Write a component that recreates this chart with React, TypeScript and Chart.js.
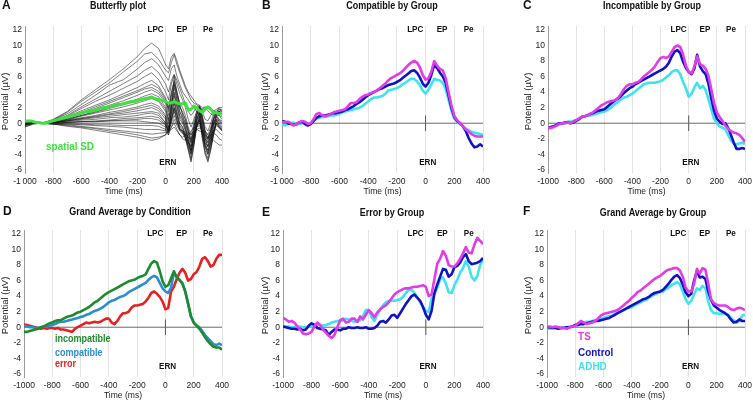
import React, { useEffect, useRef } from "react";
import { Chart, registerables } from "chart.js";
Chart.register(...registerables);

const FF = "'Liberation Sans', Arial, sans-serif";

// time base (ms), 20 ms steps
const TIMES = [-1000,-980,-960,-940,-920,-900,-880,-860,-840,-820,-800,-780,-760,-740,-720,-700,-680,-660,-640,-620,-600,-580,-560,-540,-520,-500,-480,-460,-440,-420,-400,-380,-360,-340,-320,-300,-280,-260,-240,-220,-200,-180,-160,-140,-120,-100,-80,-60,-40,-20,0,20,40,60,80,100,120,140,160,180,200,220,240,260,280,300,320,340,360,380,400];
// butterfly time base (ms)
const BT = [-1000,-940,-880,-800,-700,-600,-500,-400,-300,-200,-150,-100,-50,0,20,40,60,80,100,120,140,160,180,200,220,240,260,280,300,320,340,360,380,400];

const X_TICKS = [-1000,-800,-600,-400,-200,0,200,400];
const Y_TICKS = [-6,-4,-2,0,2,4,6,8,10,12];

// A: butterfly electrodes
const E01 = [0.2,0.1,0,0.5,1.5,3.0,4.3,5.6,7.0,8.6,9.6,10.3,9.6,7.5,7.0,8.5,9.0,8.0,6.8,5.8,4.8,4.0,3.5,3.0,2.5,2.3,2.0,2.1,2.0,1.8,1.6,1.5,1.7,1.8];
const E02 = [0.3,0.1,0,0.4,1.4,2.8,4.0,5.2,6.6,8.0,8.9,9.1,8.2,6.8,6.5,7.8,8.8,7.5,6.5,5.5,4.5,3.8,3.0,2.6,2.4,2.0,1.8,1.9,2.2,2.0,1.5,1.3,1.5,1.6];
const E03 = [-0.2,0,0,0.4,1.2,2.4,3.6,4.9,5.6,7.0,7.8,8.3,7.5,6.0,5.5,7.0,7.5,6.0,5.0,4.0,3.5,3.0,2.4,2.0,1.5,1.2,1.8,2.0,1.6,1.2,1.0,1.3,1.5,1.2];
const E04 = [0.1,0,0,0.3,1.0,2.1,3.1,4.1,5.1,6.1,6.8,7.3,6.5,5.0,4.0,5.5,6.3,5.5,4.5,3.5,2.5,1.5,1.0,1.5,2.0,2.3,1.5,0.5,0.3,1.0,1.5,1.8,2.0,1.5];
const E05 = [-0.3,0,0,0.3,0.9,1.9,2.8,3.6,4.5,5.4,6.0,6.5,5.6,4.0,3.0,5.0,6.2,5.0,3.8,3.0,2.0,0.5,-0.5,0.5,1.5,2.0,1.0,-0.5,-1.0,0.0,1.2,1.5,1.8,1.4];
const E06 = [0,0,0,0.2,0.8,1.6,2.3,3.0,3.8,4.6,5.1,5.5,4.8,3.2,2.0,4.0,5.5,4.0,2.5,2.0,1.0,-0.5,-1.5,0.0,1.5,2.2,0.8,-1.0,-1.5,-0.5,0.8,1.5,1.5,1.2];
const E07 = [0.4,0.1,0,0.2,0.7,1.4,2.1,2.8,3.5,4.2,4.6,5.0,4.5,3.0,1.5,3.5,5.0,3.5,2.0,1.5,0.5,-1.0,-2.5,-0.5,1.0,2.0,0.5,-1.5,-2.5,-1.0,0.5,1.2,1.0,0.8];
const E08 = [-0.5,-0.1,0,0.2,0.6,1.2,1.8,2.3,2.9,3.6,4.0,4.3,3.8,2.5,1.0,3.0,4.5,3.0,1.5,0.8,0,-1.5,-3.0,-1.0,1.0,1.8,0,-2.0,-3.0,-1.5,0.5,1.0,1.0,0.5];
const E09 = [0.2,0,0,0.2,0.5,1.0,1.5,2.0,2.6,3.1,3.5,3.8,3.4,2.0,0.5,2.5,4.0,2.5,1.0,0.5,-0.5,-2.0,-3.5,-1.5,0.5,1.5,-0.5,-2.5,-3.5,-2.0,0.0,1.0,0.5,0.3];
const E10 = [-0.2,0,0,0.1,0.4,0.9,1.3,1.7,2.1,2.6,2.9,3.2,2.8,1.5,0.0,2.0,3.5,2.0,0.5,0,-1.0,-2.5,-4.0,-2.0,0.3,1.2,-1.0,-3.0,-4.0,-2.5,-0.5,0.8,0.2,-0.2];
const E11 = [0,0,0,0.1,0.4,0.7,1.0,1.4,1.7,2.1,2.4,2.6,2.2,1.0,-0.5,1.5,3.0,1.5,0.0,-0.5,-1.5,-3.0,-4.5,-2.5,0.0,1.0,-1.5,-3.5,-4.5,-3.0,-1.0,0.5,0.0,-0.5];
const E12 = [0.3,0.1,0,0.1,0.3,0.6,0.8,1.1,1.3,1.6,1.8,2.0,1.6,0.5,-1.0,1.0,2.5,1.0,-0.5,-1.0,-2.0,-3.5,-5.0,-3.0,-0.5,0.8,-2.0,-4.0,-5.0,-3.5,-1.5,0.3,-0.3,-0.8];
const E13 = [-0.4,-0.1,0,0.1,0.2,0.4,0.5,0.7,0.8,1.0,1.2,1.3,1.0,0.0,-1.2,0.5,2.0,0.5,-0.8,-1.2,-2.0,-3.0,-4.0,-2.5,-0.5,0.5,-1.5,-3.0,-4.0,-3.0,-1.5,0.0,-0.5,-1.0];
const E14 = [0.1,0,0,0.0,0.1,0.2,0.2,0.3,0.4,0.5,0.6,0.6,0.4,-0.3,-1.0,0.3,1.5,0.3,-0.8,-1.0,-1.5,-2.5,-3.0,-2.0,-0.3,0.3,-1.2,-2.5,-3.0,-2.2,-1.0,0.0,-0.5,-0.8];
const E15 = [0,0,0,0,-0.1,-0.1,-0.2,-0.2,-0.3,-0.3,-0.3,-0.3,-0.4,-0.8,-1.2,0.0,1.0,0.0,-0.8,-1.0,-1.2,-1.8,-2.2,-1.5,-0.5,0.0,-1.0,-2.0,-2.5,-1.8,-1.0,-0.3,-0.6,-1.0];
const E16 = [0.3,0.1,0,-0.1,-0.1,-0.2,-0.3,-0.4,-0.5,-0.7,-0.8,-0.8,-0.8,-1.0,-1.5,-0.5,0.5,-0.3,-1.0,-1.3,-1.5,-1.8,-2.0,-1.2,-0.5,-0.3,-1.0,-1.8,-2.2,-1.5,-1.0,-0.8,-1.2,-1.5];
const E17 = [-0.3,0,0,-0.1,-0.2,-0.4,-0.6,-0.8,-1.0,-1.2,-1.3,-1.4,-1.3,-1.2,-1.0,-0.8,-0.5,-1.0,-1.5,-1.8,-1.5,-1.2,-1.5,-1.0,-0.8,-0.6,-1.0,-1.5,-1.8,-1.5,-1.3,-1.5,-2.0,-2.2];
const E18 = [0,0,0,-0.1,-0.3,-0.5,-0.7,-1.0,-1.2,-1.5,-1.7,-1.9,-1.8,-1.5,-1.0,-0.5,0.0,-0.8,-1.5,-2.0,-2.2,-1.5,-1.0,-0.5,-0.8,-1.0,-1.2,-1.0,-1.5,-2.0,-2.2,-2.5,-2.8,-2.8];
const E19 = [0.2,0,0,-0.1,-0.4,-0.6,-0.9,-1.2,-1.5,-1.8,-2.0,-2.2,-2.0,-1.5,-0.5,0.5,2.0,1.0,0.0,-0.5,-1.5,-2.5,-3.0,-1.5,0.0,0.5,-0.5,-1.5,-2.0,-1.0,0.0,0.5,0.3,0.0];
const E20 = [0,0,0,0.1,0.1,0.2,0.2,0.3,0.3,0.3,0.2,0.1,0.0,-0.5,-1.5,1.5,6.0,4.0,2.5,1.0,0.0,-1.0,-2.5,-1.0,1.0,2.0,0.5,-1.0,-2.0,-1.0,0.5,1.5,2.0,2.0];
const E21 = [-0.2,0,0,0.1,0.3,0.5,0.7,0.9,1.1,1.3,1.4,1.5,1.3,0.0,-1.0,2.0,5.0,3.0,1.5,0.5,-0.5,-2.0,-3.5,-1.5,0.5,1.5,0.0,-2.0,-3.0,-1.5,0.0,1.0,1.5,1.2];
const E22 = [0.1,0,0,0.2,0.7,1.3,1.9,2.6,3.3,4.0,4.4,4.6,4.1,2.8,1.8,3.8,5.3,3.8,2.2,1.2,0.5,-0.8,-2.0,-0.5,1.2,2.1,0.8,-1.2,-2.0,-0.8,0.6,1.3,1.2,1.0];
const E23 = [-0.1,0,0,0.1,0.5,1.0,1.4,1.9,2.4,2.9,3.2,3.5,3.0,1.8,0.3,2.3,3.8,2.2,0.8,0.2,-0.8,-2.3,-3.8,-1.8,0.4,1.4,-0.8,-2.8,-3.8,-2.3,-0.3,0.9,0.4,0.1];
const E24 = [0.2,0,0,0.1,0.3,0.6,0.9,1.2,1.5,1.9,2.1,2.3,1.9,0.8,-0.8,1.2,2.8,1.2,-0.3,-0.8,-1.8,-3.3,-4.8,-2.8,-0.3,0.9,-1.8,-3.8,-4.8,-3.3,-1.3,0.4,-0.2,-0.6];
const E25 = [0,0,0,0.0,0.1,0.2,0.3,0.4,0.6,0.7,0.8,0.9,0.7,-0.2,-1.1,0.4,1.8,0.4,-0.8,-1.1,-1.8,-2.8,-3.5,-2.2,-0.4,0.4,-1.3,-2.8,-3.5,-2.6,-1.2,0.0,-0.5,-0.9];
const SPATIAL_SD = [0.2,0.3,0.3,0.2,0.1,0.1,0.0,0.0,0.1,0.2,0.3,0.4,0.5,0.6,0.7,0.8,0.9,1.0,1.1,1.2,1.3,1.4,1.5,1.5,1.6,1.7,1.8,1.9,2.0,2.0,2.1,2.2,2.3,2.4,2.4,2.5,2.6,2.7,2.8,2.8,2.9,3.0,3.1,3.2,3.2,3.3,3.2,3.1,3.0,2.9,2.8,2.6,2.6,2.8,2.6,2.5,2.5,2.6,1.7,1.8,2.2,2.0,1.6,1.4,1.8,2.1,1.8,1.3,1.4,1.2,1.3];

// B: compatible by group
const B_TS = [0.2,0.1,0.2,0.0,-0.3,-0.1,0.1,0.3,0.2,-0.1,0.0,0.5,1.2,1.3,1.0,0.9,1.0,1.2,1.4,1.5,1.6,1.7,1.8,2.2,2.6,2.6,2.7,3.1,3.4,3.6,3.7,3.9,4.0,4.2,4.5,4.8,5.1,5.5,5.8,6.0,6.2,6.4,6.7,7.1,7.5,7.8,8.0,7.8,7.2,6.2,5.6,5.8,6.6,8.0,7.4,7.0,6.8,5.8,4.0,2.3,0.9,0.4,0.0,-0.4,-0.8,-1.1,-1.4,-1.6,-1.7,-1.7,-1.7];
const B_CONTROL = [0.3,0.2,0.0,-0.1,-0.2,-0.1,0.1,0.2,-0.1,-0.3,-0.1,0.3,0.7,0.9,1.0,1.0,1.1,1.2,1.3,1.3,1.4,1.5,1.7,1.8,2.0,2.2,2.5,2.7,3.0,3.3,3.6,3.8,4.0,4.2,4.4,4.5,4.7,4.9,5.0,5.1,5.3,5.5,5.8,6.1,6.4,6.7,6.8,6.5,5.9,5.1,4.7,5.2,6.2,7.5,7.1,6.5,6.0,5.2,3.6,2.0,0.8,0.3,0.0,-0.4,-1.0,-1.9,-2.6,-3.1,-3.0,-2.7,-3.0];
const B_ADHD = [-0.2,-0.3,-0.1,0.0,0.1,-0.2,-0.1,0.0,0.1,-0.1,0.0,0.3,0.6,0.7,0.8,0.8,0.9,1.0,1.0,1.1,1.2,1.4,1.5,1.6,1.7,1.8,1.9,2.0,2.2,2.5,2.8,3.1,3.3,3.3,3.4,3.5,3.8,4.2,4.3,4.4,4.5,4.7,5.0,5.2,5.5,5.7,5.7,5.4,4.9,4.2,3.8,4.3,5.0,5.7,5.6,5.5,5.2,4.4,3.0,1.6,0.6,0.2,-0.1,-0.4,-0.7,-0.9,-1.1,-1.2,-1.3,-1.4,-1.5];

// C: incompatible by group
const C_TS = [-0.6,-0.6,-0.5,-0.3,-0.1,0.0,0.0,0.1,0.0,0.2,0.4,0.6,0.8,0.9,1.0,1.2,1.4,1.7,2.0,2.3,2.5,2.7,2.8,2.9,3.0,3.3,3.8,4.4,4.8,5.0,5.0,5.2,5.3,5.6,6.0,6.3,6.6,6.9,7.3,7.9,8.4,8.5,8.4,8.6,9.2,9.8,10.0,9.8,8.8,7.4,6.6,6.4,7.3,8.6,7.6,7.4,7.0,6.1,4.4,2.6,1.4,0.8,0.3,-0.3,-0.7,-1.0,-1.2,-1.3,-1.5,-1.9,-2.4];
const C_CONTROL = [-0.6,-0.5,-0.4,-0.2,0.0,0.0,0.1,0.1,0.0,0.1,0.3,0.5,0.8,0.9,1.0,1.2,1.3,1.5,1.6,1.7,1.8,2.1,2.4,2.7,3.0,3.2,3.5,3.9,4.2,4.5,4.7,5.0,5.2,5.4,5.6,5.8,6.0,6.2,6.4,6.6,6.8,7.0,7.3,7.8,8.6,9.2,9.4,9.0,7.9,7.1,6.6,6.3,7.0,8.8,7.3,6.7,6.3,5.1,3.2,1.6,0.6,0.2,-0.1,0.0,-0.6,-1.5,-2.5,-3.3,-3.3,-3.2,-3.3];
const C_ADHD = [-0.6,-0.6,-0.4,-0.3,-0.1,-0.1,0.0,0.2,0.2,0.3,0.4,0.6,0.8,0.9,1.0,1.0,1.1,1.2,1.3,1.4,1.5,1.7,1.9,2.2,2.5,2.8,3.1,3.3,3.4,3.6,3.8,4.1,4.4,4.7,5.0,5.1,5.2,5.2,5.2,5.3,5.4,5.6,5.9,6.2,6.6,6.8,6.8,6.3,5.3,4.5,3.4,3.8,4.6,5.2,4.5,4.8,4.3,3.1,1.8,0.6,0.0,-0.4,-0.6,-0.8,-1.5,-2.2,-2.6,-2.7,-2.6,-2.5,-2.7];

// D: grand average by condition
const D_INCOMPATIBLE = [-0.6,-0.6,-0.5,-0.4,-0.3,-0.2,0.0,0.1,0.3,0.5,0.6,0.8,0.9,0.9,1.1,1.3,1.4,1.5,1.7,1.9,2.0,2.2,2.4,2.6,2.9,3.2,3.4,3.7,4.0,4.3,4.5,4.7,4.9,5.1,5.3,5.5,5.7,5.9,6.0,6.1,6.3,6.5,6.6,6.8,7.5,8.2,8.5,8.3,7.2,5.9,5.2,5.4,6.3,7.2,6.4,6.1,5.6,4.6,3.1,1.4,0.6,0.2,-0.2,-0.7,-1.3,-1.8,-2.2,-2.5,-2.6,-2.6,-2.9];
const D_COMPATIBLE = [0.2,0.1,0.0,0.0,-0.1,-0.1,0.0,0.1,0.1,0.2,0.3,0.4,0.6,0.7,0.7,0.8,0.9,1.0,1.1,1.2,1.3,1.4,1.6,1.7,1.9,2.1,2.2,2.4,2.6,2.9,3.2,3.4,3.5,3.7,3.9,4.0,4.2,4.5,4.7,4.9,5.1,5.3,5.5,5.7,6.1,6.4,6.6,6.4,5.7,5.0,4.6,4.4,5.1,7.0,6.5,6.0,5.7,4.6,3.0,1.4,0.6,0.2,0.0,-0.5,-1.0,-1.4,-1.8,-2.2,-2.3,-2.1,-2.3];
const D_ERROR = [0.3,0.3,0.2,0.1,0.0,-0.1,-0.2,-0.1,-0.2,-0.1,-0.1,-0.2,-0.1,-0.3,-0.3,-0.4,-0.5,-0.6,-0.2,0.0,0.2,0.4,0.6,0.5,0.6,0.7,0.6,0.7,0.9,1.1,1.1,0.6,0.4,0.8,1.4,1.8,1.8,2.0,2.5,2.8,2.8,2.9,3.0,3.3,3.8,4.4,4.6,4.3,3.9,3.3,2.3,2.5,4.6,5.2,6.2,7.0,7.5,7.0,6.0,6.2,6.8,7.1,7.8,8.8,9.0,8.5,7.8,8.0,8.8,9.3,9.3];

// E: error by group
const E_TS = [1.2,1.0,0.7,0.8,0.6,0.1,-0.3,-0.8,-0.9,-0.8,-0.6,0.1,0.6,0.3,-0.3,-0.7,-1.1,-1.4,-1.0,0.0,0.9,1.1,0.6,0.7,1.1,1.1,0.7,1.4,1.0,1.6,2.2,1.8,1.3,1.9,2.3,2.6,2.8,3.2,3.7,4.2,4.5,4.7,4.9,5.0,5.0,5.1,5.2,5.2,5.3,5.4,5.2,4.0,4.2,6.2,8.2,8.8,9.8,9.2,8.0,7.8,7.8,8.2,8.8,9.5,10.3,9.6,9.5,10.6,11.5,11.1,10.7];
const E_CONTROL = [0.1,0.0,-0.1,-0.2,-0.2,-0.3,-0.2,-0.4,-0.3,0.2,0.5,0.3,-0.1,-0.2,-0.3,-0.4,-1.0,-0.6,-0.3,-0.3,-0.4,-0.2,-0.2,0.0,-0.1,-0.1,0.0,-0.1,-0.1,0.0,-0.2,-0.2,-0.1,0.2,0.7,0.8,0.6,1.0,1.5,1.6,1.2,1.8,2.4,3.0,3.5,4.0,4.2,3.8,3.4,2.6,1.6,1.0,2.1,4.4,5.5,6.5,7.5,7.4,6.5,6.8,7.7,7.9,8.3,9.0,9.4,8.5,8.1,8.2,8.3,8.5,8.9];
const E_ADHD = [0.2,0.1,0.1,0.0,0.0,0.1,0.1,0.0,0.0,0.1,0.1,0.2,0.3,0.3,0.2,0.3,0.4,0.6,0.7,0.8,0.8,0.9,1.1,1.0,0.8,0.7,0.7,0.9,1.4,2.2,2.2,1.3,0.8,1.6,2.3,2.8,3.2,3.4,3.4,3.4,3.5,3.6,3.9,4.4,4.8,4.8,4.4,3.8,3.2,2.6,2.1,2.0,3.7,4.2,5.1,6.2,6.4,5.6,4.5,4.4,5.4,6.1,7.0,7.6,8.5,7.8,6.5,6.0,6.6,8.0,8.8];

// F: grand average by group
const F_TS = [0.1,0.1,0.0,0.1,0.0,-0.1,-0.1,-0.2,0.0,0.1,0.2,0.5,0.8,0.6,0.4,0.5,0.6,0.8,1.1,1.5,1.7,1.8,1.9,2.0,2.1,2.2,2.5,2.8,3.1,3.4,3.8,4.1,4.5,4.7,5.0,5.3,5.6,5.9,6.2,6.4,6.6,6.9,7.2,7.4,7.5,7.6,7.6,7.3,6.5,5.1,4.6,4.6,5.6,7.5,6.9,7.6,7.4,5.6,3.6,3.1,2.9,2.8,2.8,2.8,2.6,2.3,2.2,2.4,2.5,2.4,2.2];
const F_CONTROL = [0.0,0.0,-0.1,-0.1,-0.2,-0.1,-0.1,0.0,0.0,0.1,0.3,0.3,0.4,0.4,0.5,0.6,0.7,0.8,0.8,0.9,1.0,1.1,1.2,1.4,1.6,1.8,2.0,2.2,2.4,2.6,2.8,3.0,3.2,3.4,3.6,3.7,3.9,4.2,4.4,4.5,4.6,4.8,5.2,5.6,6.1,6.5,6.7,6.3,5.5,4.5,4.0,4.3,6.0,7.2,6.4,6.5,6.2,4.6,3.5,2.8,2.5,2.2,2.0,1.8,1.5,1.0,0.6,0.7,1.0,0.8,0.8];
const F_ADHD = [-0.2,-0.2,-0.1,-0.1,-0.1,-0.1,0.0,0.0,0.1,0.1,0.2,0.4,0.6,0.6,0.7,0.7,0.8,0.9,1.0,1.1,1.2,1.3,1.4,1.5,1.7,1.9,2.0,2.2,2.4,2.5,2.6,2.8,3.0,3.2,3.4,3.5,3.8,4.0,4.2,4.4,4.5,4.6,4.9,5.1,5.4,5.6,5.8,5.5,4.6,3.6,3.0,3.4,4.2,5.0,4.8,5.3,5.0,3.3,2.2,1.8,1.8,1.7,1.8,1.7,1.6,1.2,0.9,0.6,0.8,1.5,1.6];

const COMPONENTS = [
  { label: "LPC", t: -72, v: 12 },
  { label: "EP", t: 115, v: 12 },
  { label: "Pe", t: 300, v: 12 },
  { label: "ERN", t: 15, v: -5.1 },
];

const MAGENTA = "#e23ce6";
const DBLUE = "#1212c4";
const CYAN = "#3fe3ef";

type Series = { t: number[]; v: number[]; color: string; width: number };
type Legend = { text: string; color: string; t: number; v: number; size: number };
type PanelDef = {
  letter: string; title: string;
  x: number; y: number; w: number; h: number;
  area: { l: number; r: number; t: number; b: number };
  letterPos: [number, number]; titlePos: [number, number];
  yTitleX: number; xTitleY: number;
  series: Series[]; legend: Legend[]; spaced: boolean;
};

const buttLines = [E01,E02,E03,E04,E05,E06,E07,E08,E09,E10,E11,E12,E13,E14,E15,E16,E17,E18,E19,E20,E21,E22,E23,E24,E25];

const PANELS: PanelDef[] = [
  {
    letter: "A", title: "Butterfly plot", x: 0, y: 0, w: 250, h: 200,
    area: { l: 25, r: 222, t: 26, b: 173 }, letterPos: [2, 6], titlePos: [118, 6],
    yTitleX: 5, xTitleY: 191, spaced: true,
    series: [
      { t: TIMES, v: SPATIAL_SD, color: "#3ee23e", width: 3 },
      ...buttLines.map((v) => ({ t: BT, v, color: "rgba(20,20,20,0.9)", width: 0.6 })),
    ],
    legend: [{ text: "spatial SD", color: "#3ee23e", t: -850, v: -3.0, size: 11 }],
  },
  {
    letter: "B", title: "Compatible by Group", x: 250, y: 0, w: 250, h: 200,
    area: { l: 32, r: 233, t: 26, b: 173 }, letterPos: [12, 6], titlePos: [142, 6.5],
    yTitleX: 15, xTitleY: 191, spaced: true,
    series: [
      { t: TIMES, v: B_TS, color: MAGENTA, width: 2.6 },
      { t: TIMES, v: B_CONTROL, color: DBLUE, width: 2.6 },
      { t: TIMES, v: B_ADHD, color: CYAN, width: 2.6 },
    ],
    legend: [],
  },
  {
    letter: "C", title: "Incompatible by Group", x: 500, y: 0, w: 253, h: 200,
    area: { l: 48, r: 245, t: 26, b: 173 }, letterPos: [23, 6], titlePos: [152, 6.5],
    yTitleX: 28, xTitleY: 191, spaced: false,
    series: [
      { t: TIMES, v: C_TS, color: MAGENTA, width: 2.6 },
      { t: TIMES, v: C_CONTROL, color: DBLUE, width: 2.6 },
      { t: TIMES, v: C_ADHD, color: CYAN, width: 2.6 },
    ],
    legend: [],
  },
  {
    letter: "D", title: "Grand Average by Condition", x: 0, y: 200, w: 250, h: 201,
    area: { l: 24, r: 222, t: 30, b: 177 }, letterPos: [3, 12], titlePos: [130, 12],
    yTitleX: 5, xTitleY: 195, spaced: false,
    series: [
      { t: TIMES, v: D_INCOMPATIBLE, color: "#1f8a2e", width: 2.6 },
      { t: TIMES, v: D_COMPATIBLE, color: "#2b8dd2", width: 2.6 },
      { t: TIMES, v: D_ERROR, color: "#e42222", width: 2.6 },
    ],
    legend: [
      { text: "incompatible", color: "#1f8a2e", t: -780, v: -1.6, size: 10 },
      { text: "compatible", color: "#2b8dd2", t: -780, v: -3.3, size: 10 },
      { text: "error", color: "#e42222", t: -780, v: -4.8, size: 10 },
    ],
  },
  {
    letter: "E", title: "Error by Group", x: 250, y: 200, w: 250, h: 201,
    area: { l: 33, r: 233, t: 30, b: 177 }, letterPos: [12, 13], titlePos: [142, 13],
    yTitleX: 15, xTitleY: 195, spaced: false,
    series: [
      { t: TIMES, v: E_TS, color: MAGENTA, width: 2.6 },
      { t: TIMES, v: E_CONTROL, color: DBLUE, width: 2.6 },
      { t: TIMES, v: E_ADHD, color: CYAN, width: 2.6 },
    ],
    legend: [],
  },
  {
    letter: "F", title: "Grand Average by Group", x: 500, y: 200, w: 253, h: 201,
    area: { l: 47, r: 245, t: 30, b: 177 }, letterPos: [23, 12], titlePos: [153, 13],
    yTitleX: 28, xTitleY: 195, spaced: false,
    series: [
      { t: TIMES, v: F_TS, color: MAGENTA, width: 2.6 },
      { t: TIMES, v: F_CONTROL, color: DBLUE, width: 2.6 },
      { t: TIMES, v: F_ADHD, color: CYAN, width: 2.6 },
    ],
    legend: [
      { text: "TS", color: MAGENTA, t: -780, v: -1.2, size: 11 },
      { text: "Control", color: DBLUE, t: -780, v: -3.3, size: 11 },
      { text: "ADHD", color: CYAN, t: -780, v: -5.1, size: 11 },
    ],
  },
];

function drawText(ctx: CanvasRenderingContext2D, s: string, x: number, y: number, size: number, bold: boolean, color: string, align: CanvasTextAlign = "center", sx = 0.9, rot = 0) {
  ctx.save();
  ctx.font = `${bold ? "bold " : ""}${size}px ${FF}`;
  ctx.fillStyle = color;
  ctx.textBaseline = "middle";
  ctx.textAlign = align;
  ctx.translate(x, y);
  if (rot) ctx.rotate(rot);
  ctx.scale(sx, 1);
  ctx.fillText(s, 0, 0);
  ctx.restore();
}

const XH = 20;

function Panel({ p }: { p: PanelDef }) {
  const ref = useRef<HTMLCanvasElement | null>(null);
  useEffect(() => {
    const canvas = ref.current!;
    const datasets: any[] = p.series.map((s) => ({
      data: s.t.map((t, i) => ({ x: t, y: s.v[i] })),
      borderColor: s.color,
      borderWidth: s.width,
      pointRadius: 0,
      tension: 0,
      fill: false,
      borderJoinStyle: "round",
    }));
    datasets.push({
      data: [{ x: -1000, y: 0 }, { x: 400, y: 0 }],
      borderColor: "#6a6a6a", borderWidth: 1, pointRadius: 0, fill: false,
    });
    datasets.push({
      data: [{ x: 0, y: -1 }, { x: 0, y: 1 }],
      borderColor: "#555555", borderWidth: 1, pointRadius: 0, fill: false,
    });

    const annot = {
      id: "annot",
      afterDraw(chart: any) {
        const ctx = chart.ctx as CanvasRenderingContext2D;
        const xs = chart.scales.x, ys = chart.scales.y;
        const ca = chart.chartArea;
        drawText(ctx, p.letter, p.letterPos[0], p.letterPos[1], 12, true, "#111", "left", 1);
        drawText(ctx, p.title, p.titlePos[0], p.titlePos[1], 10, true, "#111", "center");
        drawText(ctx, "Potential (\u00b5V)", p.yTitleX, (ca.top + ca.bottom) / 2 + 2, 9.5, false, "#222", "center", 1, -Math.PI / 2);
        drawText(ctx, "Time (ms)", (ca.left + ca.right) / 2, p.xTitleY, 9.5, false, "#222", "center");
        for (const c of COMPONENTS) {
          drawText(ctx, c.label, xs.getPixelForValue(c.t), ys.getPixelForValue(c.v), 9, true, "#111", "center");
        }
        for (const l of p.legend) {
          drawText(ctx, l.text, xs.getPixelForValue(l.t), ys.getPixelForValue(l.v), l.size, true, l.color, "left");
        }
      },
    };

    const tickFont = { family: FF, size: 8.5 };
    const chart = new Chart(canvas, {
      type: "line",
      data: { datasets },
      options: {
        animation: false,
        responsive: false,
        maintainAspectRatio: false,
        events: [],
        layout: { padding: { left: 0, top: p.area.t, right: p.w - p.area.r, bottom: p.h - p.area.b - XH } },
        plugins: { legend: { display: false }, tooltip: { enabled: false }, title: { display: false } },
        scales: {
          x: {
            type: "linear", min: -1000, max: 400,
            afterBuildTicks: (s: any) => { s.ticks = X_TICKS.map((v) => ({ value: v })); },
            afterFit: (s: any) => { s.height = XH; s.paddingLeft = 0; s.paddingRight = 0; },
            grid: {
              drawTicks: false,
              lineWidth: 1,
              color: (c: any) => (c.tick && c.tick.value === -1000 ? "rgba(0,0,0,0)" : "#e3e3e3"),
            },
            border: { display: false },
            ticks: {
              font: tickFont, color: "#222", padding: 4, autoSkip: false, maxRotation: 0,
              callback: (v: any) => (v === -1000 && p.spaced ? "-1\u2009000" : String(v)),
            },
          },
          y: {
            type: "linear", min: -6.4, max: 12.5,
            afterBuildTicks: (s: any) => { s.ticks = Y_TICKS.map((v) => ({ value: v })); },
            afterFit: (s: any) => { s.width = p.area.l; s.paddingTop = 0; s.paddingBottom = 0; },
            grid: { drawOnChartArea: false, drawTicks: false },
            border: { display: true, color: "#9a9a9a", width: 1 },
            ticks: { font: tickFont, color: "#222", padding: 3, autoSkip: false },
          },
        },
      } as any,
      plugins: [annot],
    });
    return () => chart.destroy();
  }, [p]);
  return (
    <canvas
      ref={ref}
      width={p.w}
      height={p.h}
      style={{ position: "absolute", left: p.x, top: p.y, width: p.w, height: p.h }}
    />
  );
}

export default function App() {
  return (
    <div style={{ position: "fixed", left: 0, top: 0, width: 753, height: 401, background: "#fff", overflow: "hidden" }}>
      {PANELS.map((p) => (
        <Panel key={p.letter} p={p} />
      ))}
    </div>
  );
}
